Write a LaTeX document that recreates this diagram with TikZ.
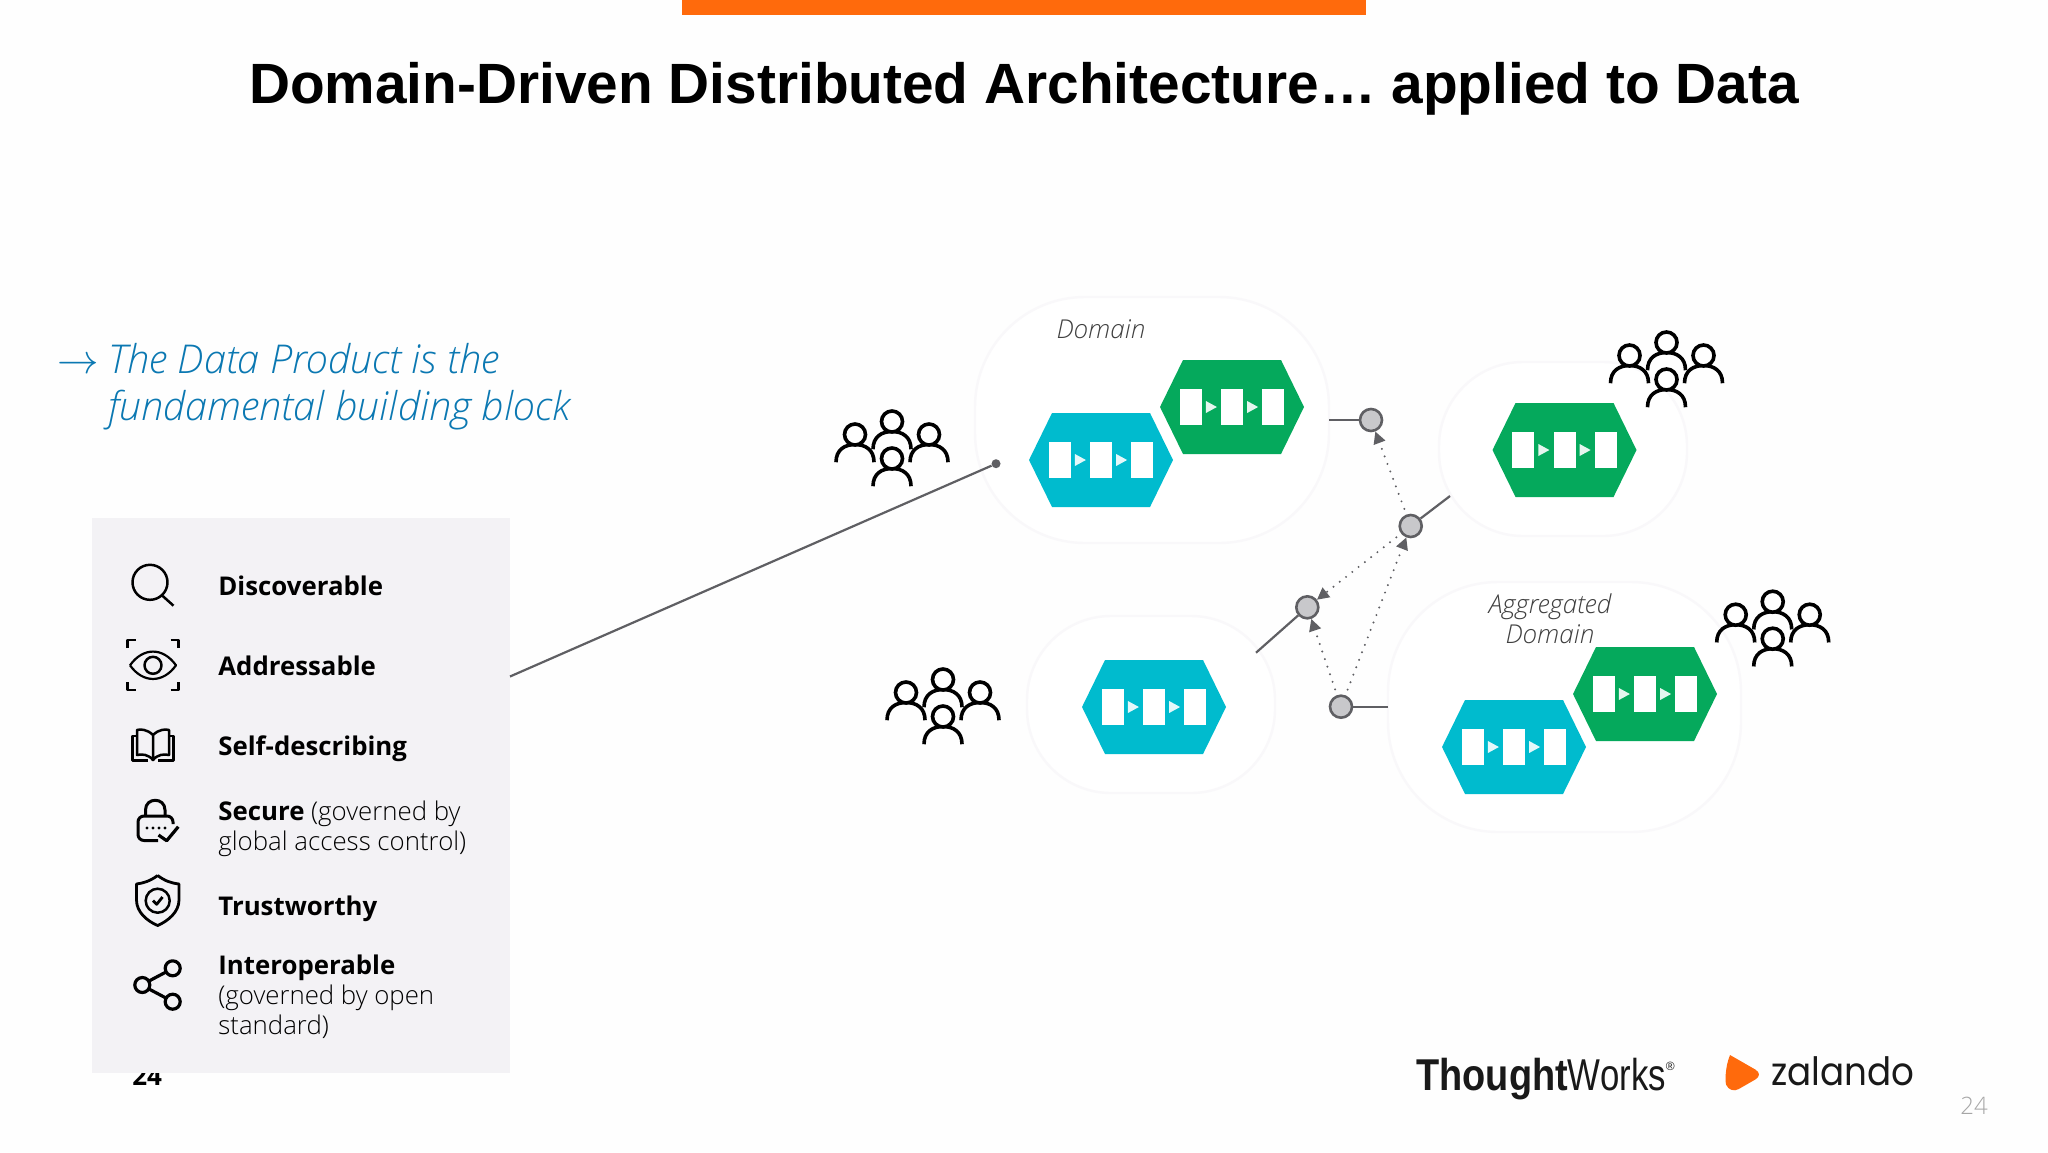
\documentclass[tikz,border=0pt]{standalone}
\usepackage{fontspec}
\setmainfont{Open Sans}
\newfontfamily\lightfont{Open Sans Light}
\newfontfamily\titlefont{Liberation Sans}
\newfontfamily\thoughtfont[FakeStretch=0.85]{Liberation Sans}
\newfontfamily\worksfont[FakeStretch=0.78]{Liberation Sans}
\newfontfamily\zalandofont[FakeStretch=0.915]{Poppins}
\usepackage{tikz}
\usetikzlibrary{positioning}
\usetikzlibrary{arrows.meta}
\definecolor{barorange}{HTML}{FF6A0C}
\definecolor{blockgreen}{HTML}{05A95C}
\definecolor{blockcyan}{HTML}{00BBCE}
\definecolor{leadblue}{HTML}{0B78B2}
\definecolor{panelgrey}{HTML}{F3F2F5}
\definecolor{linkgrey}{HTML}{5F5F63}
\definecolor{portgrey}{HTML}{C8C8CB}
\definecolor{blobline}{HTML}{F9F8FA}
\definecolor{pagewhite}{HTML}{FEFEFE}

\tikzset{
pics/person/.style={code={
  \draw[line width=1.8pt] (-19,27.7) .. controls (-19,15) and (-10,10) .. (0,10) .. controls (10,10) and (19,15) .. (19,27.7);
  \draw[line width=1.8pt, fill=white] (0,0) circle [radius=10.5];
}},
pics/crowd/.style={code={
  \pic at (0,-25) {person};
  \pic at (-37,-12) {person};
  \pic at (37,-12) {person};
  \pic at (0,12) {person};
}},
pics/datablock/.style={code={
  \fill[#1] (-72,0) -- (-49,-47) -- (49,-47) -- (72,0) -- (49,47) -- (-49,47) -- cycle;
  \foreach \dx in {-41.3,0,41.3}
    \fill[white] ({\dx-11},-18) rectangle ({\dx+11},18);
  \foreach \dx in {-20.6,20.6}
    \fill[white!90!#1] ({\dx-5.5},-6) -- ({\dx+5.5},0) -- ({\dx-5.5},6) -- cycle;
}},
}

\begin{document}
\begin{tikzpicture}[
x=0.5pt, y=-0.5pt,
blobarea/.style={draw=blobline, fill=white, line width=1.2pt},
porthole/.style={circle, draw=linkgrey, fill=portgrey, line width=1.3pt, minimum size=11pt, inner sep=0pt},
solidlink/.style={draw=linkgrey, line width=1.1pt},
dotlink/.style={draw=linkgrey, line width=1.1pt, line cap=round, dash pattern=on 0pt off 4pt, -{Triangle[length=6pt,width=6pt]}, shorten <=3pt},
itemtext/.style={anchor=base west, inner sep=0pt, align=left, font=\fontsize{12.9}{15}\selectfont},
areatext/.style={inner sep=0pt, text=black!75, align=center, font=\lightfont\itshape\fontsize{13}{15}\selectfont},
lineicon/.style={line width=1.25pt, line join=round},
]
\useasboundingbox (0,0) rectangle (2048,1152);
\fill[pagewhite] (0,0) rectangle (2048,1152);

%Header
\fill[barorange] (682,0) rectangle (1366,15);
\node[anchor=base, inner sep=0pt, font=\titlefont\bfseries\fontsize{28.4}{34}\selectfont] (title) at (1024,103) {Domain-Driven Distributed Architecture… applied to Data};

%Lead text
\node[anchor=west, inner sep=0pt, text=leadblue, font=\fontsize{22}{22}\selectfont] (leadarrow) at (57,366) {$\rightarrow$};
\node[anchor=base west, inner sep=0pt, text=leadblue, font=\lightfont\itshape\fontsize{19.85}{23.5}\selectfont, align=left] (leadtext) at (108,420) {The Data Product is the\\fundamental building block};

%Panel
\node[anchor=base west, inner sep=0pt, font=\bfseries\fontsize{13}{15}\selectfont] (pagebehind) at (132,1085) {24};
\fill[panelgrey] (92,518) rectangle (510,1073);
\coordinate (panelright) at (510,676.5);

\node[itemtext] (discoverable) at (218,595) {\textbf{Discoverable}};
\node[itemtext] (addressable) at (218,675) {\textbf{Addressable}};
\node[itemtext] (selfdescribing) at (218,755) {\textbf{Self-describing}};
\node[itemtext] (secure) at (218,850) {\textbf{Secure} {\lightfont (governed by}\\{\lightfont global access control)}};
\node[itemtext] (trustworthy) at (218,915) {\textbf{Trustworthy}};
\node[itemtext] (interoperable) at (218,1034) {\textbf{Interoperable}\\{\lightfont (governed by open}\\{\lightfont standard)}};

%Icons
\draw[lineicon] (150,582.3) circle [radius=17.5] (162.7,596) -- (173.5,605.7);
\draw[lineicon, line width=1.1pt] (130,665.3) .. controls (143,647) and (163,647) .. (176,665.3) .. controls (163,683.5) and (143,683.5) .. (130,665.3);
\draw[lineicon] (153,665.3) circle [radius=8.5];
\draw[lineicon, line width=1.4pt] (127.5,648) -- (127.5,640) -- (136,640) (170.5,640) -- (178.5,640) -- (178.5,648) (127.5,682) -- (127.5,690) -- (136,690) (170.5,690) -- (178.5,690) -- (178.5,682);
\draw[lineicon] (153,735) .. controls (147,729) and (140,729) .. (137,730) -- (137,755) .. controls (142,754) and (148,754) .. (153,760) .. controls (158,754) and (164,754) .. (169,755) -- (169,730) .. controls (166,729) and (159,729) .. (153,735) -- (153,760);
\draw[lineicon] (137,736) -- (132.5,736) -- (132.5,760.5) -- (148,760.5) (169,736) -- (173.5,736) -- (173.5,760.5) -- (158,760.5);
\draw[lineicon, line width=1.5pt, rounded corners=3pt] (158,840.5) -- (138,840.5) -- (138,816) -- (173,816) -- (173,824);
\draw[lineicon, line width=1.5pt] (145.5,816) -- (145.5,810) .. controls (145.5,797) and (165,797) .. (165,810) -- (165,816);
\draw[lineicon, line width=1.6pt] (158.5,835) -- (166.7,840.7) -- (178.3,826.7);
\foreach \dotx in {147,153,159,165}
  \fill (\dotx,828) circle [radius=1.6];
\draw[lineicon, line width=1.4pt] (157.7,875.5) .. controls (150,881) and (144,883) .. (136.5,884) -- (136.5,900) .. controls (136.5,912) and (147,921) .. (157.7,925.5) .. controls (168,921) and (179,912) .. (179,900) -- (179,884) .. controls (171,883) and (165,881) .. (157.7,875.5);
\draw[lineicon] (157.7,900.7) circle [radius=12];
\draw[lineicon, line width=1.4pt] (153,900.7) -- (156.7,904.3) -- (162.5,897);
\draw[lineicon, line width=1.6pt] (172.7,968.3) circle [radius=7.5] (142.3,985) circle [radius=7.5] (172.7,1001.7) circle [radius=7.5];
\draw[lineicon, line width=1.6pt] (149,981) -- (166,972) (149,989) -- (166,998);

%Areas
\draw[blobarea, rounded corners=55pt] (975,297) rectangle (1329,543);
\draw[blobarea, rounded corners=42pt] (1439,362) rectangle (1687,536);
\draw[blobarea, rounded corners=42pt] (1027,616) rectangle (1275,793);
\draw[blobarea, rounded corners=55pt] (1388,582) rectangle (1741,832);

\node[areatext, anchor=base] (domainlabel) at (1101,338) {Domain};
\node[areatext, anchor=base] (aggregatedlabel) at (1550,643) {Aggregated\\Domain};

%Blocks
\foreach \bx/\by/\bcol in {1232/407/blockgreen, 1101/460/blockcyan, 1564.5/450/blockgreen, 1154/707/blockcyan, 1645/694/blockgreen, 1514/747/blockcyan}
  \pic at (\bx,\by) {datablock=\bcol};

%People
\foreach \cx/\cy in {892/446.5, 1666.5/367.5, 943/704.5, 1772.7/626.7}
  \pic at (\cx,\cy) {crowd};

%Ports
\node[porthole] (portdomain)  at (1371,420)   {};
\node[porthole] (portright)   at (1410.7,526) {};
\node[porthole] (portleft)    at (1307.3,607.3) {};
\node[porthole] (portaggr)    at (1341,706.7) {};
\node[circle, fill=linkgrey, minimum size=4.5pt, inner sep=0pt] (readdot) at (996,463.7) {};

\coordinate (domainedge) at (1329,420);
\coordinate (rightedge) at (1450,496);
\coordinate (leftedge) at (1256,652.7);
\coordinate (aggredge) at (1388,706.7);

%Lines
\draw[solidlink] (panelright) -- (readdot);
\draw[solidlink] (domainedge) -- (portdomain);
\draw[solidlink] (rightedge) -- (portright);
\draw[solidlink] (leftedge) -- (portleft);
\draw[solidlink] (aggredge) -- (portaggr);
\draw[dotlink] (portright) -- (portdomain);
\draw[dotlink] (portright) -- (portleft);
\draw[dotlink] (portaggr) -- (portright);
\draw[dotlink] (portaggr) -- (portleft);

%Logos
\node[anchor=base west, inner sep=0pt, text=black!90] (thoughtworks) at (1416,1090) {{\thoughtfont\bfseries\fontsize{22.3}{24}\selectfont Thought}{\worksfont\fontsize{22.3}{24}\selectfont Works}\raisebox{10pt}{\titlefont\fontsize{6}{6}\selectfont ®}};
\fill[barorange, rounded corners=5pt] (1730,1055) -- (1764,1074.5) -- (1730,1094) .. controls (1725,1082) and (1725,1067) .. (1730,1055);
\node[anchor=base west, inner sep=0pt, text=black!90, font=\zalandofont\fontsize{19.5}{22}\selectfont] (zalando) at (1771,1085.7) {zalando};
\node[anchor=base, inner sep=0pt, text=black!35, font=\lightfont\fontsize{12}{14}\selectfont] (pagenumber) at (1974,1114) {24};
\end{tikzpicture}
\end{document}
